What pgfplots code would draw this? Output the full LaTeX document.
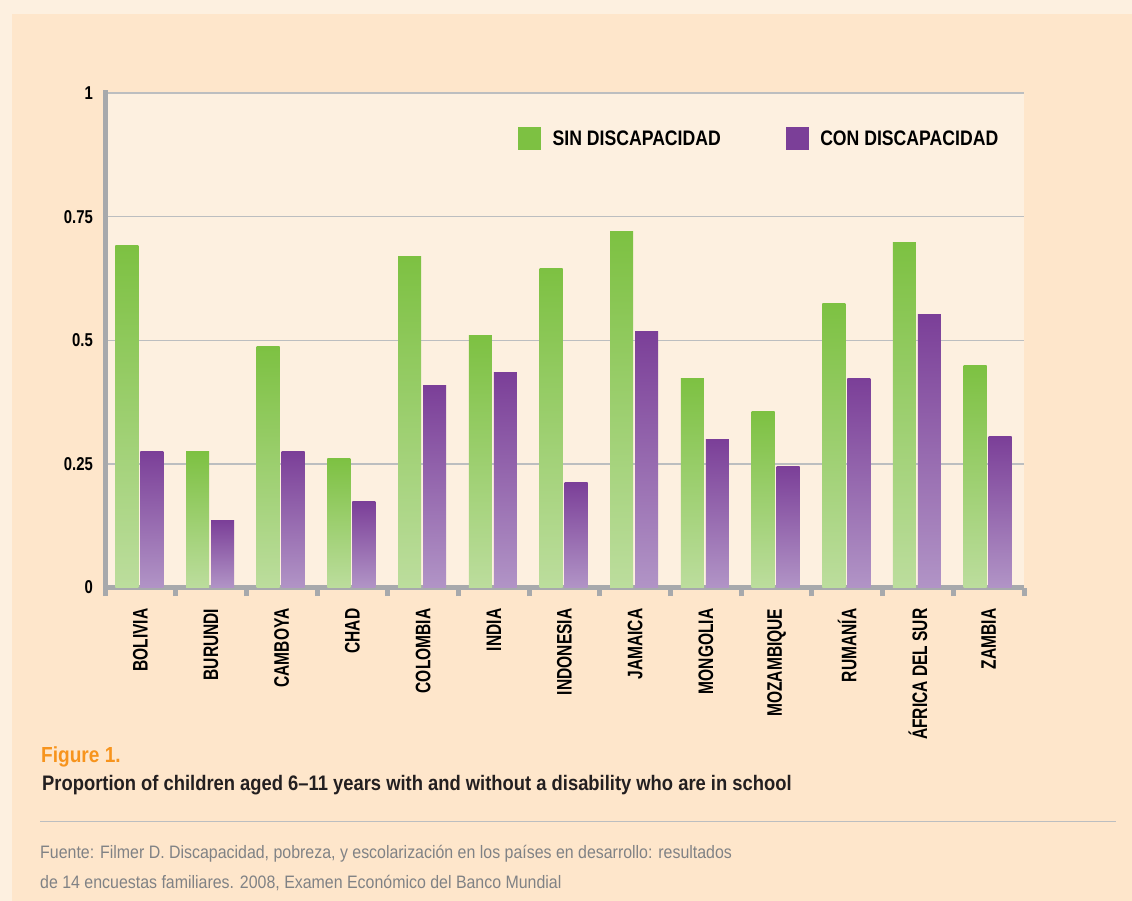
\documentclass[border=0pt]{standalone}
\usepackage{fontspec}
\setmainfont{Liberation Sans}[FakeStretch=0.8]
\newfontfamily\fLeg{Liberation Sans}[FakeStretch=0.84]
\newfontfamily\fCat{Liberation Sans}[FakeStretch=0.74]
\newfontfamily\fTit{Liberation Sans}[FakeStretch=0.875]
\newfontfamily\fSrc{Liberation Sans}[FakeStretch=0.885]
\usepackage{pgfplots}
\pgfplotsset{compat=1.18}
\definecolor{bgOut}{HTML}{FDF0E0}
\definecolor{bgPan}{HTML}{FEE6CB}
\definecolor{bgPlot}{HTML}{FDF0E0}
\definecolor{gridC}{HTML}{BCBEC0}
\definecolor{axisC}{HTML}{A7A9AC}
\definecolor{gTop}{HTML}{7DC142}
\definecolor{gBot}{HTML}{BCDD9D}
\definecolor{pTop}{HTML}{7B3F98}
\definecolor{pBot}{HTML}{B194C6}
\definecolor{orangeC}{HTML}{F7941D}
\definecolor{titC}{HTML}{231F20}
\definecolor{srcC}{HTML}{808285}
\pgfplotsset{
  layers/mylayers/.define layer set={axis background,axis grid,main,axis ticks,axis lines,axis tick labels,axis descriptions,axis foreground}{},
  gbar/.style={ybar, bar width=23pt, bar shift=-13.5pt, draw=none, top color=gTop, bottom color=gBot, forget plot},
  pbar/.style={ybar, bar width=23pt, bar shift=11.5pt, draw=none, top color=pTop, bottom color=pBot, forget plot},
}
\begin{document}
\begin{tikzpicture}
\fill[bgOut] (0,0) rectangle (1132pt,-901pt);
\fill[bgPan] (12pt,-14pt) rectangle (1132pt,-901pt);
\begin{axis}[
  set layers=mylayers,
  at={(105pt,-587.5pt)}, anchor=south west,
  width=919pt, height=494.5pt, scale only axis,
  xmin=-0.5, xmax=12.5, ymin=0, ymax=1,
  axis background/.style={fill=bgPlot},
  axis x line*=bottom, axis y line*=left,
  axis line style={-},
  x axis line style={line width=5pt, draw=axisC},
  y axis line style={line width=5pt, draw=axisC, shorten >=-2.5pt},
  ytick={0,0.25,0.5,0.75,1},
  yticklabels={0,0.25,0.5,0.75,1},
  ymajorgrids, grid style={draw=gridC, line width=1.3pt},
  major tick length=0pt,
  xtick={0,...,12},
  xticklabels={BOLIVIA,BURUNDI,CAMBOYA,CHAD,COLOMBIA,INDIA,INDONESIA,JAMAICA,MONGOLIA,MOZAMBIQUE,RUMANÍA,ÁFRICA DEL SUR,ZAMBIA},
  minor xtick={-0.5,0.5,...,12.5},
  minor tick length=8.5pt,
  tick align=outside,
  minor tick style={line width=5pt, draw=axisC},
  /pgf/number format/assume math mode=true,
  yticklabel style={anchor=east, inner sep=0pt, xshift=-12pt, font=\bfseries\fontsize{18.6}{20}\selectfont, text=black},
  xticklabel style={rotate=90, anchor=east, inner sep=0pt, font=\fCat\bfseries\fontsize{21}{22}\selectfont, text=black},
  xticklabel shift=21pt,
  legend style={at={(0.4494,0.9312)}, anchor=north west, draw=none, fill=none, inner sep=0pt,
    font=\fLeg\bfseries\fontsize{21}{22}\selectfont, text=black,
    column sep=0pt,
    /tikz/every odd column/.append style={column sep=10pt},
    /tikz/every even column/.append style={column sep=63pt}},
  legend columns=2,
  legend cell align=left,
]
\addlegendimage{legend image code/.code={\fill[gTop] (0pt,-11pt) rectangle (22pt,11pt);}}
\addlegendentry{SIN DISCAPACIDAD}
\addlegendimage{legend image code/.code={\fill[pTop] (0pt,-11pt) rectangle (22pt,11pt);}}
\addlegendentry{CON DISCAPACIDAD}
% SIN DISCAPACIDAD
\addplot[gbar] coordinates {(0,0.692)};
\addplot[gbar] coordinates {(1,0.275)};
\addplot[gbar] coordinates {(2,0.488)};
\addplot[gbar] coordinates {(3,0.261)};
\addplot[gbar] coordinates {(4,0.670)};
\addplot[gbar] coordinates {(5,0.510)};
\addplot[gbar] coordinates {(6,0.646)};
\addplot[gbar] coordinates {(7,0.719)};
\addplot[gbar] coordinates {(8,0.423)};
\addplot[gbar] coordinates {(9,0.356)};
\addplot[gbar] coordinates {(10,0.575)};
\addplot[gbar] coordinates {(11,0.698)};
\addplot[gbar] coordinates {(12,0.449)};
% CON DISCAPACIDAD
\addplot[pbar] coordinates {(0,0.275)};
\addplot[pbar] coordinates {(1,0.136)};
\addplot[pbar] coordinates {(2,0.275)};
\addplot[pbar] coordinates {(3,0.174)};
\addplot[pbar] coordinates {(4,0.409)};
\addplot[pbar] coordinates {(5,0.435)};
\addplot[pbar] coordinates {(6,0.213)};
\addplot[pbar] coordinates {(7,0.518)};
\addplot[pbar] coordinates {(8,0.300)};
\addplot[pbar] coordinates {(9,0.245)};
\addplot[pbar] coordinates {(10,0.423)};
\addplot[pbar] coordinates {(11,0.553)};
\addplot[pbar] coordinates {(12,0.306)};
\end{axis}
\node[anchor=base west, inner sep=0pt, text=orangeC, font=\fTit\bfseries\fontsize{21.8}{24}\selectfont] at (41pt,-762pt) {Figure 1.};
\node[anchor=base west, inner sep=0pt, text=titC, font=\fTit\bfseries\fontsize{21}{24}\selectfont] at (42pt,-790pt) {Proportion of children aged 6–11 years with and without a disability who are in school};
\draw[draw=gridC, line width=1pt] (40pt,-821pt) -- (1116pt,-821pt);
\node[anchor=base west, inner sep=0pt, text=srcC, font=\fSrc\fontsize{18}{20}\selectfont] at (40pt,-858pt) {Fuente: Filmer D. Discapacidad, pobreza, y escolarización en los países en desarrollo: resultados};
\node[anchor=base west, inner sep=0pt, text=srcC, font=\fSrc\fontsize{18}{20}\selectfont] at (40pt,-888pt) {de 14 encuestas familiares. 2008, Examen Económico del Banco Mundial};
\end{tikzpicture}
\end{document}
